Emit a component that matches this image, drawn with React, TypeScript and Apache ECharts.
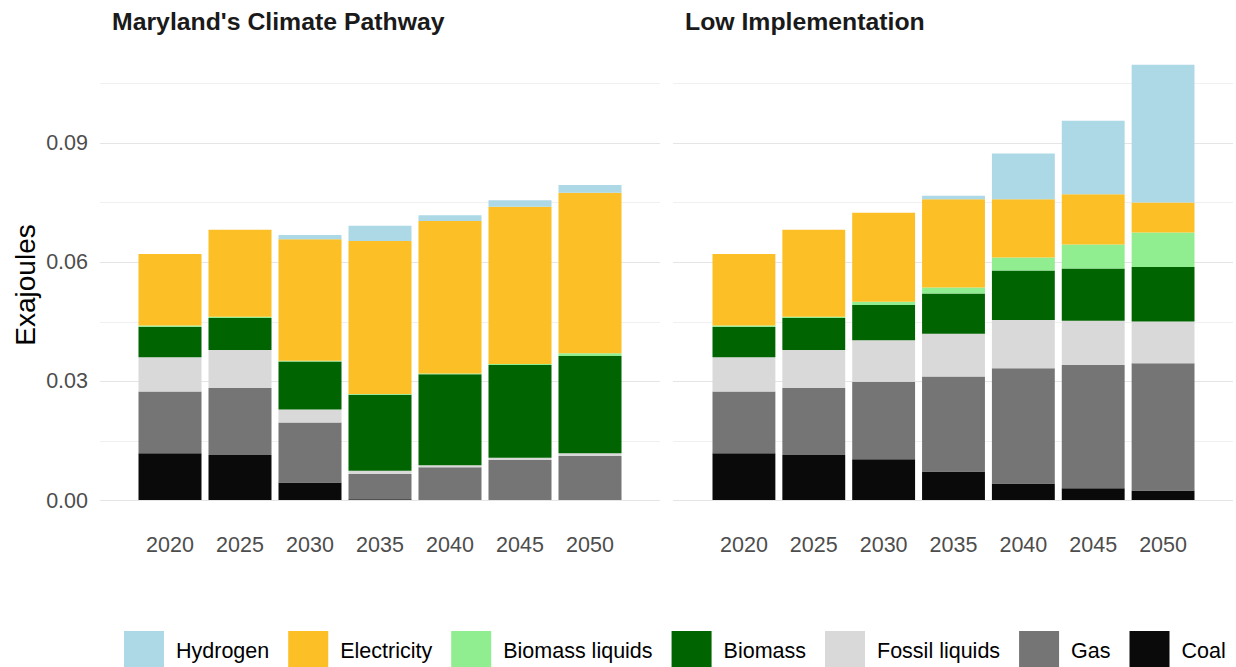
import React, { useEffect, useRef } from "react";
import * as echarts from "echarts";

const years = ["2020", "2025", "2030", "2035", "2040", "2045", "2050"];
const fuels = ["Coal", "Gas", "Fossil liquids", "Biomass", "Biomass liquids", "Electricity", "Hydrogen"];
const legendOrder = ["Hydrogen", "Electricity", "Biomass liquids", "Biomass", "Fossil liquids", "Gas", "Coal"];
const fuelColors = ["#0a0a0a", "#757575", "#d9d9d9", "#006400", "#90ee90", "#fcbf25", "#add8e6"];
const yTicks = [0, 0.03, 0.06, 0.09];
const panelTitles = ["Maryland's Climate Pathway", "Low Implementation"];

// Maryland's Climate Pathway
const mcpCoal = [0.0118, 0.0114, 0.0044, 0.0002, 0, 0, 0];
const mcpGas = [0.0156, 0.017, 0.0152, 0.0064, 0.0083, 0.0101, 0.0111];
const mcpFossilLiquids = [0.0087, 0.0095, 0.0033, 0.0008, 0.0005, 0.0006, 0.0007];
const mcpBiomass = [0.0077, 0.0081, 0.0121, 0.0192, 0.023, 0.0234, 0.0246];
const mcpBiomassLiquids = [0.0003, 0.0003, 0.0002, 0.0002, 0.0002, 0.0003, 0.0007];
const mcpElectricity = [0.0181, 0.022, 0.0307, 0.0387, 0.0385, 0.0397, 0.0406];
const mcpHydrogen = [0, 0, 0.0011, 0.0038, 0.0015, 0.0017, 0.0019];

// Low Implementation
const lowCoal = [0.0118, 0.0114, 0.0103, 0.0072, 0.0042, 0.003, 0.0024];
const lowGas = [0.0156, 0.017, 0.0196, 0.024, 0.0291, 0.0311, 0.0322];
const lowFossilLiquids = [0.0087, 0.0095, 0.0105, 0.0108, 0.0122, 0.0112, 0.0105];
const lowBiomass = [0.0077, 0.0081, 0.0089, 0.0102, 0.0125, 0.0132, 0.0138];
const lowBiomassLiquids = [0.0003, 0.0003, 0.0008, 0.0015, 0.0033, 0.0061, 0.0087];
const lowElectricity = [0.0181, 0.022, 0.0225, 0.0223, 0.0147, 0.0127, 0.0076];
const lowHydrogen = [0, 0, 0, 0.0009, 0.0116, 0.0186, 0.0348];

const mcpData = [mcpCoal, mcpGas, mcpFossilLiquids, mcpBiomass, mcpBiomassLiquids, mcpElectricity, mcpHydrogen];
const lowData = [lowCoal, lowGas, lowFossilLiquids, lowBiomass, lowBiomassLiquids, lowElectricity, lowHydrogen];

const FONT = "'Liberation Sans', Arial, Helvetica, sans-serif";

export default function App() {
  const ref = useRef<HTMLDivElement>(null);

  useEffect(() => {
    if (!ref.current) return;
    const chart = echarts.init(ref.current, null, { renderer: "svg" });

    const gridColors: string[] = [];
    for (let i = 0; i <= 8; i++) {
      gridColors.push(i === 8 ? "rgba(0,0,0,0)" : i % 2 === 0 ? "#e5e5e5" : "#f0f0f0");
    }

    const displayY = (showLabels: boolean) => ({
      type: "value",
      min: 0,
      max: 0.12,
      interval: 0.015,
      axisLine: { show: false },
      axisTick: { show: false },
      splitLine: { show: true, showMaxLine: false, lineStyle: { color: gridColors, width: 1 } },
      axisLabel: {
        show: showLabels,
        margin: 12,
        fontSize: 21.5,
        fontFamily: FONT,
        color: "#4d4d4d",
        showMaxLabel: false,
        formatter: (v: number) => {
          const hit = yTicks.find((t) => Math.abs(t - v) < 1e-9);
          return hit !== undefined ? hit.toFixed(2) : "";
        },
      },
    });

    const dataY = () => ({
      type: "value",
      min: 0,
      max: 0.12,
      show: false,
      splitLine: { show: false },
    });

    const dataX = () => ({
      type: "category",
      data: years,
      boundaryGap: true,
      axisLine: { show: false },
      axisTick: { show: false },
      splitLine: { show: false },
      axisLabel: { margin: 34, fontSize: 21.5, fontFamily: FONT, color: "#4d4d4d" },
    });

    const series: any[] = [];
    const addPanel = (data: number[][], axisIndex: number, stack: string) => {
      fuels.forEach((f, i) => {
        series.push({
          name: f,
          type: "bar",
          stack,
          xAxisIndex: axisIndex,
          yAxisIndex: axisIndex,
          data: data[i],
          barCategoryGap: "10%",
          itemStyle: { color: fuelColors[i] },
          emphasis: { disabled: true },
        });
      });
    };
    addPanel(mcpData, 2, "mcp");
    addPanel(lowData, 3, "low");

    chart.setOption({
      animation: false,
      backgroundColor: "#ffffff",
      textStyle: { fontFamily: FONT },
      grid: [
        { left: 100, right: 576, top: 23.7, bottom: 166.3 },
        { left: 673, right: 3, top: 23.7, bottom: 166.3 },
        { left: 135, right: 611, top: 25.3, bottom: 167 },
        { left: 709, right: 38, top: 25.3, bottom: 167 },
      ],
      xAxis: [
        { type: "value", gridIndex: 0, show: false, min: 0, max: 1 },
        { type: "value", gridIndex: 1, show: false, min: 0, max: 1 },
        { ...dataX(), gridIndex: 2 },
        { ...dataX(), gridIndex: 3 },
      ],
      yAxis: [
        { ...displayY(true), gridIndex: 0 },
        { ...displayY(false), gridIndex: 1 },
        { ...dataY(), gridIndex: 2 },
        { ...dataY(), gridIndex: 3 },
      ],
      legend: {
        data: legendOrder,
        top: 631,
        left: 124,
        padding: 0,
        orient: "horizontal",
        icon: "rect",
        itemWidth: 40,
        itemHeight: 40,
        itemGap: 19,
        selectedMode: false,
        textStyle: { fontSize: 21.5, fontFamily: FONT, color: "#000000", padding: [0, 0, 0, 7] },
      },
      graphic: [
        {
          type: "text",
          left: 112,
          top: 9,
          style: { text: panelTitles[0], fontSize: 24.8, fontWeight: "bold", fontFamily: FONT, fill: "#1a1a1a" },
        },
        {
          type: "text",
          left: 685,
          top: 9,
          style: { text: panelTitles[1], fontSize: 24.8, fontWeight: "bold", fontFamily: FONT, fill: "#1a1a1a" },
        },
        {
          type: "text",
          x: 25,
          y: 285,
          rotation: Math.PI / 2,
          style: {
            text: "Exajoules",
            fontSize: 28,
            fontFamily: FONT,
            fill: "#000000",
            textAlign: "center",
            textVerticalAlign: "middle",
          },
        },
      ],
      series,
    });

    return () => chart.dispose();
  }, []);

  return (
    <div
      ref={ref}
      style={{ position: "fixed", left: 0, top: 0, width: 1236, height: 667, background: "#fff" }}
    />
  );
}
